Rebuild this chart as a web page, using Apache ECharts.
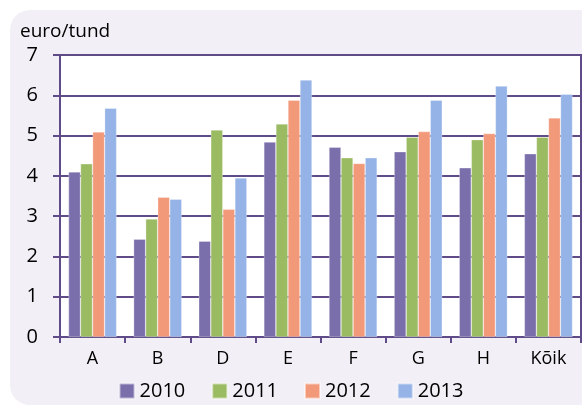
<!DOCTYPE html>
<html>
<head>
<meta charset="utf-8">
<script src="https://cdn.jsdelivr.net/npm/echarts@6/dist/echarts.min.js"></script>
<style>
  html, body { margin: 0; padding: 0; background: #fff; }
  #chart { width: 582px; height: 407px; }
</style>
</head>
<body>
<div id="chart"></div>
<script>
  var categories = ['A', 'B', 'D', 'E', 'F', 'G', 'H', 'Kõik'];
  var years = ['2010', '2011', '2012', '2013'];
  var v2010 = [4.1, 2.43, 2.38, 4.84, 4.71, 4.6, 4.2, 4.55];
  var v2011 = [4.3, 2.93, 5.14, 5.29, 4.45, 4.96, 4.9, 4.96];
  var v2012 = [5.09, 3.47, 3.17, 5.88, 4.31, 5.1, 5.05, 5.44];
  var v2013 = [5.68, 3.42, 3.95, 6.38, 4.45, 5.88, 6.23, 6.03];
  var colors = ['#7b6fab', '#9bbb63', '#f2997a', '#95b3e6'];

  var font = '"Open Sans", "Noto Sans", sans-serif';
  var lineColor = '#5e4b88';

  var myChart = echarts.init(document.getElementById('chart'));

  function bar(name, data, i) {
    return {
      name: name,
      type: 'bar',
      barGap: '0%',
      barCategoryGap: '26%',
      itemStyle: {
        color: colors[i],
        borderColor: 'rgba(255,255,255,0.5)',
        borderWidth: 0.6
      },
      data: data
    }
  }

  myChart.setOption({
    animation: false,
    graphic: [{
      type: 'rect',
      z: -10,
      shape: { x: 10, y: 10, width: 600, height: 395, r: 20 },
      style: { fill: '#f3eff6' }
    }],
    title: {
      text: 'euro/tund',
      left: 15,
      top: 17,
      textStyle: { fontFamily: font, fontSize: 19, fontWeight: 'normal', color: '#000' }
    },
    color: colors,
    grid: {
      left: 60,
      right: 1,
      top: 55,
      bottom: 70,
      show: true,
      backgroundColor: '#fff',
      borderColor: lineColor,
      borderWidth: 2
    },
    legend: {
      bottom: 1,
      left: 'center',
      icon: 'rect',
      itemWidth: 15,
      itemHeight: 15,
      itemGap: 26,
      textStyle: { fontFamily: font, fontSize: 20, color: '#000' },
      data: years
    },
    xAxis: {
      type: 'category',
      data: categories,
      axisLine: { lineStyle: { color: lineColor, width: 2 } },
      axisTick: { show: true, length: 6, lineStyle: { color: lineColor, width: 2 } },
      axisLabel: { fontFamily: font, fontSize: 18, color: '#000', margin: 13 }
    },
    yAxis: {
      type: 'value',
      min: 0,
      max: 7,
      interval: 1,
      axisLine: { show: true, lineStyle: { color: lineColor, width: 2 } },
      axisTick: { show: true, length: 7, lineStyle: { color: lineColor, width: 2 } },
      axisLabel: { fontFamily: font, fontSize: 20, color: '#000', margin: 22 },
      splitLine: { lineStyle: { color: lineColor, width: 2 } }
    },
    series: [
      bar('2010', v2010, 0),
      bar('2011', v2011, 1),
      bar('2012', v2012, 2),
      bar('2013', v2013, 3)
    ]
  })
</script>
</body>
</html>
